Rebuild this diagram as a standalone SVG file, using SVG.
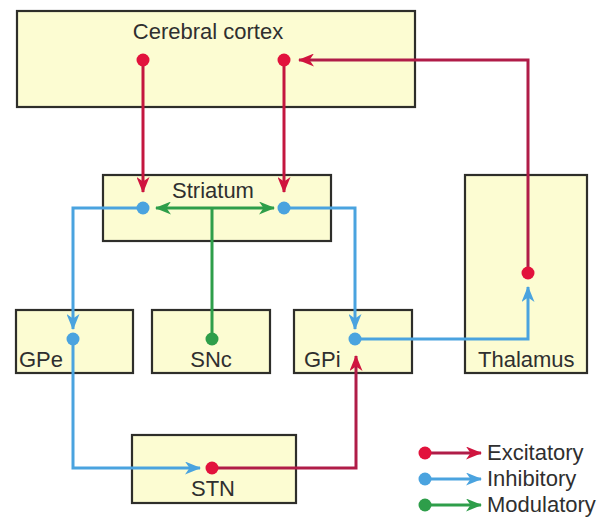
<svg xmlns="http://www.w3.org/2000/svg" width="600" height="521" viewBox="0 0 600 521">
<defs>
<style>
.box{fill:#fcfcd2;stroke:#2e2e2a;stroke-width:2.2}
.lbl{font-family:"Liberation Sans",Arial,sans-serif;font-size:22px;fill:#2f2f2f}
.ex{fill:none;stroke:#c4163f;stroke-width:3}
.exd{fill:none;stroke:#b01c48;stroke-width:3}
.in{fill:none;stroke:#4aa3df;stroke-width:3}
.mo{fill:none;stroke:#2e9e4a;stroke-width:3}
.dr{fill:#e2123c}
.db{fill:#4aa3df}
.dg{fill:#2e9e4a}
</style>
<marker id="aR" viewBox="0 0 16 13" markerWidth="16" markerHeight="13" refX="15" refY="6.5" orient="auto" markerUnits="userSpaceOnUse"><path d="M0,0 L16,6.5 L0,13 L4.5,6.5 z" fill="#d0143e"/></marker>
<marker id="aB" viewBox="0 0 16 13" markerWidth="16" markerHeight="13" refX="15" refY="6.5" orient="auto" markerUnits="userSpaceOnUse"><path d="M0,0 L16,6.5 L0,13 L4.5,6.5 z" fill="#4aa3df"/></marker>
<marker id="aG" viewBox="0 0 16 13" markerWidth="16" markerHeight="13" refX="15" refY="6.5" orient="auto" markerUnits="userSpaceOnUse"><path d="M0,0 L16,6.5 L0,13 L4.5,6.5 z" fill="#2e9e4a"/></marker>
</defs>
<rect width="600" height="521" fill="#ffffff"/>
<g id="cortex"><rect class="box" x="17" y="11" width="398" height="96"/><text class="lbl" x="208" y="39" text-anchor="middle">Cerebral cortex</text></g>
<g id="striatum"><rect class="box" x="103" y="175" width="228" height="66"/><text class="lbl" x="213" y="198" text-anchor="middle">Striatum</text></g>
<g id="thalamus"><rect class="box" x="465" y="175" width="122" height="198"/><text class="lbl" x="478" y="367">Thalamus</text></g>
<g id="gpe"><rect class="box" x="16" y="310" width="117" height="63"/><text class="lbl" x="19" y="367">GPe</text></g>
<g id="snc"><rect class="box" x="152" y="310" width="118" height="63"/><text class="lbl" x="211" y="367" text-anchor="middle">SNc</text></g>
<g id="gpi"><rect class="box" x="294" y="310" width="118" height="63"/><text class="lbl" x="304" y="367">GPi</text></g>
<g id="stn"><rect class="box" x="132" y="435" width="164" height="68"/><text class="lbl" x="213" y="496" text-anchor="middle">STN</text></g>
<g id="connectors">
<path class="ex" d="M143,60 V192" marker-end="url(#aR)"/>
<path class="ex" d="M284,60 V192" marker-end="url(#aR)"/>
<path class="exd" d="M528,273 V60 H299" marker-end="url(#aR)"/>
<path class="exd" d="M212,468 H356 V356" marker-end="url(#aR)"/>
<path class="in" d="M143,208 H73 V329" marker-end="url(#aB)"/>
<path class="in" d="M284,208 H355 V329" marker-end="url(#aB)"/>
<path class="in" d="M73,339 V468 H200" marker-end="url(#aB)"/>
<path class="in" d="M355,339 H528 V287" marker-end="url(#aB)"/>
<path class="mo" d="M212,339 V208"/>
<path class="mo" d="M212,208 H156" marker-end="url(#aG)"/>
<path class="mo" d="M212,208 H274" marker-end="url(#aG)"/>
<circle class="dr" cx="143" cy="60" r="6.5"/>
<circle class="dr" cx="284" cy="60" r="6.5"/>
<circle class="db" cx="143" cy="208" r="6.5"/>
<circle class="db" cx="284" cy="208" r="6.5"/>
<circle class="dg" cx="212" cy="339" r="6.5"/>
<circle class="db" cx="73" cy="339" r="6.5"/>
<circle class="db" cx="355" cy="339" r="6.5"/>
<circle class="dr" cx="528" cy="273" r="6.5"/>
<circle class="dr" cx="212" cy="468" r="6.5"/>
</g>
<g id="legend">
<path class="exd" d="M425,453 H481" marker-end="url(#aR)"/>
<circle class="dr" cx="425" cy="453" r="6.5"/>
<text class="lbl" x="487" y="460">Excitatory</text>
<path class="in" d="M425,479 H481" marker-end="url(#aB)"/>
<circle class="db" cx="425" cy="479" r="6.5"/>
<text class="lbl" x="487" y="486">Inhibitory</text>
<path class="mo" d="M425,505 H481" marker-end="url(#aG)"/>
<circle class="dg" cx="425" cy="505" r="6.5"/>
<text class="lbl" x="487" y="512">Modulatory</text>
</g>
</svg>
